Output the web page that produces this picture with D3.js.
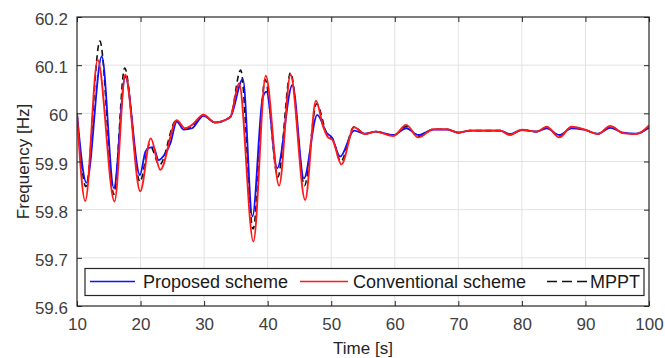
<!DOCTYPE html>
<html>
<head>
<meta charset="utf-8">
<script src="https://cdn.jsdelivr.net/npm/d3@7"></script>
<style>
  body { margin: 0; background: #fff; }
  svg { font-family: "Liberation Sans", Arial, sans-serif; }
  .tick text { fill: #404040; font-size: 17px; }
</style>
</head>
<body>
<script>
// time [s] / frequency [Hz] key points
var propT = [10, 11.5, 13.9, 15.8, 17.6, 19.9, 20.75, 21.3, 22.0, 22.85, 23.9, 24.7, 25.7, 26.8, 28.1, 29.9, 31.7, 34.1,
             36.1, 37.6, 39.2, 39.8, 41.5, 43.9, 45.7, 47.8, 49.3, 50.1, 51.4, 53.6, 55.3, 57.0, 59.8, 61.8, 63.7,
             66.1, 68.2, 70, 71.8, 75, 76.6, 78.1, 80, 82.3, 83.9, 85.9, 87.8, 89.7, 92, 93.9, 95.9, 98, 100];
var propF = [60.0, 59.856, 60.118, 59.845, 60.076, 59.872, 59.92, 59.928, 59.930, 59.903, 59.917, 59.938, 59.983, 59.966, 59.969, 59.995, 59.981, 59.992,
             60.071, 59.786, 60.031, 60.045, 59.886, 60.059, 59.865, 59.997, 59.959, 59.950, 59.910, 59.964, 59.958, 59.962, 59.955, 59.969, 59.955,
             59.966, 59.966, 59.960, 59.964, 59.964, 59.964, 59.957, 59.965, 59.962, 59.969, 59.955, 59.969, 59.966, 59.958, 59.970, 59.960, 59.958, 59.970];

var convT = [10, 11.3, 13.25, 15.9, 17.6, 19.95, 21.6, 23.1, 25.7, 27.0, 28.1, 29.9, 31.7, 34.1,
             35.5, 37.75, 39.7, 41.8, 43.6, 45.9, 47.6, 48.75, 49.5, 50.2, 51.6, 53.6, 55.3, 57.0, 59.8, 61.8, 63.7,
             66.1, 68.2, 70, 71.8, 75, 76.6, 78.1, 80, 82.3, 83.9, 85.9, 87.8, 89.7, 92, 93.9, 95.9, 98, 100];
var convF = [60.0, 59.818, 60.111, 59.817, 60.080, 59.838, 59.948, 59.883, 59.986, 59.969, 59.976, 59.997, 59.981, 59.992,
             60.062, 59.734, 60.078, 59.850, 60.080, 59.820, 60.026, 59.972, 59.950, 59.945, 59.894, 59.971, 59.957, 59.962, 59.953, 59.976, 59.950,
             59.967, 59.967, 59.960, 59.964, 59.964, 59.964, 59.955, 59.966, 59.962, 59.972, 59.950, 59.972, 59.967, 59.957, 59.974, 59.959, 59.957, 59.975];

var mpptT = [10, 11.4, 13.6, 15.8, 17.5, 19.9, 21.4, 23.0, 25.6, 27.0, 28.1, 29.9, 31.7, 34.1,
             35.75, 37.7, 39.6, 41.6, 43.6, 45.8, 47.7, 49.4, 50.2, 51.5, 53.6, 55.3, 57.0, 59.8, 61.8, 63.7,
             66.1, 68.2, 70, 71.8, 75, 76.6, 78.1, 80, 82.3, 83.9, 85.9, 87.8, 89.7, 92, 93.9, 95.9, 98, 100];
var mpptF = [60.0, 59.848, 60.150, 59.832, 60.094, 59.858, 59.935, 59.893, 59.985, 59.967, 59.972, 59.996, 59.981, 59.992,
             60.090, 59.760, 60.070, 59.868, 60.084, 59.850, 60.020, 59.955, 59.948, 59.900, 59.972, 59.957, 59.962, 59.954, 59.973, 59.952,
             59.967, 59.967, 59.960, 59.964, 59.964, 59.964, 59.956, 59.966, 59.962, 59.971, 59.952, 59.971, 59.967, 59.957, 59.973, 59.959, 59.957, 59.973];

var xTicks = [10, 20, 30, 40, 50, 60, 70, 80, 90, 100];
var yTicks = [59.6, 59.7, 59.8, 59.9, 60, 60.1, 60.2];
var seriesNames = ["Proposed scheme", "Conventional scheme", "MPPT"];

var width = 665, height = 358;
var margin = {top: 17, right: 16, bottom: 52, left: 77};
var innerW = width - margin.left - margin.right,
    innerH = height - margin.top - margin.bottom;

var svg = d3.select("body").append("svg")
    .attr("width", width)
    .attr("height", height);

var g = svg.append("g")
    .attr("transform", "translate(" + margin.left + "," + margin.top + ")");

var x = d3.scaleLinear().domain([10, 100]).range([0, innerW]);
var y = d3.scaleLinear().domain([59.6, 60.2]).range([innerH, 0]);

// grid
g.append("g").selectAll("line").data(xTicks.slice(1, -1)).enter().append("line")
    .attr("x1", function(d) { return x(d); }).attr("x2", function(d) { return x(d); })
    .attr("y1", 0).attr("y2", innerH)
    .style("stroke", "#e2e2e2").style("stroke-width", 1);
g.append("g").selectAll("line").data(yTicks.slice(1, -1)).enter().append("line")
    .attr("y1", function(d) { return y(d); }).attr("y2", function(d) { return y(d); })
    .attr("x1", 0).attr("x2", innerW)
    .style("stroke", "#e2e2e2").style("stroke-width", 1);

// lines
var clip = g.append("clipPath").attr("id", "clip")
  .append("rect").attr("width", innerW).attr("height", innerH);

function makeLine(ts) {
  return d3.line()
    .x(function(d, i) { return x(ts[i]); })
    .y(function(d) { return y(d); })
    .curve(d3.curveMonotoneX);
}

var plot = g.append("g").attr("clip-path", "url(#clip)");
plot.append("path").datum(mpptF)
    .attr("d", makeLine(mpptT))
    .style("fill", "none").style("stroke", "#111").style("stroke-width", 1.6)
    .style("stroke-dasharray", "6,4");
plot.append("path").datum(propF)
    .attr("d", makeLine(propT))
    .style("fill", "none").style("stroke", "#1010ff").style("stroke-width", 1.8);
plot.append("path").datum(convF)
    .attr("d", makeLine(convT))
    .style("fill", "none").style("stroke", "#ff1a1a").style("stroke-width", 1.9);

// axes with inward ticks
var xAxis = g.append("g").attr("transform", "translate(0," + innerH + ")")
    .call(d3.axisBottom(x).tickValues(xTicks).tickSize(-5).tickPadding(12).tickFormat(d3.format("d")));
var xTop = g.append("g")
    .call(d3.axisTop(x).tickValues(xTicks).tickSize(-5).tickFormat(""));
var yAxis = g.append("g")
    .call(d3.axisLeft(y).tickValues(yTicks).tickSize(-5).tickPadding(9).tickFormat(function(d) { return d3.format("")(+d.toFixed(1)); }));
var yRight = g.append("g").attr("transform", "translate(" + innerW + ",0)")
    .call(d3.axisRight(y).tickValues(yTicks).tickSize(-5).tickFormat(""));

[xAxis, xTop, yAxis, yRight].forEach(function(a) {
  a.select(".domain").remove();
  a.selectAll(".tick line").style("stroke", "#262626");
});
yAxis.selectAll(".tick text").attr("dy", "0.45em");

g.append("rect")
    .attr("width", innerW).attr("height", innerH)
    .style("fill", "none").style("stroke", "#262626").style("stroke-width", 1.2);

// axis labels
svg.append("text")
    .attr("x", margin.left + innerW / 2).attr("y", 354)
    .attr("text-anchor", "middle")
    .style("font-size", "17px").style("fill", "#262626")
    .text("Time [s]");
svg.append("text")
    .attr("transform", "translate(29," + (margin.top + innerH / 2) + ") rotate(-90)")
    .attr("text-anchor", "middle")
    .style("font-size", "17px").style("fill", "#262626")
    .text("Frequency [Hz]");

// legend
var leg = svg.append("g");
leg.append("rect")
    .attr("x", 85).attr("y", 268.5).attr("width", 559).attr("height", 27)
    .style("fill", "#fff").style("stroke", "#262626").style("stroke-width", 1.2);
var legItems = [
  {name: seriesNames[0], x1: 90, x2: 135, tx: 143, color: "#1010ff", dash: null},
  {name: seriesNames[1], x1: 300, x2: 348, tx: 353, color: "#ff1a1a", dash: null},
  {name: seriesNames[2], x1: 547, x2: 587, tx: 590, color: "#111", dash: "10,5"}
];
legItems.forEach(function(d) {
  leg.append("line")
      .attr("x1", d.x1).attr("x2", d.x2).attr("y1", 281.5).attr("y2", 281.5)
      .style("stroke", d.color).style("stroke-width", 1.6)
      .style("stroke-dasharray", d.dash);
  leg.append("text")
      .attr("x", d.tx).attr("y", 288)
      .style("font-size", "18px").style("fill", "#1a1a1a")
      .text(d.name);
});
</script>
</body>
</html>
